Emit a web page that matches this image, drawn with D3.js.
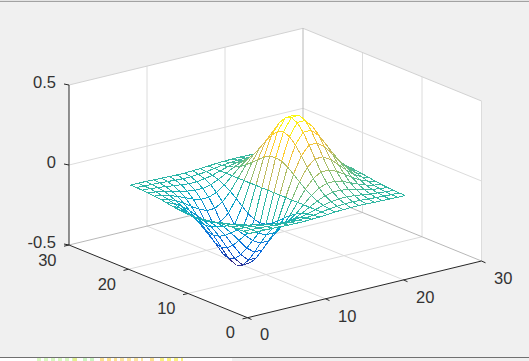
<!DOCTYPE html>
<html>
<head>
<meta charset="utf-8">
<script src="https://cdnjs.cloudflare.com/ajax/libs/d3/7.8.5/d3.min.js"></script>
<style>
html,body{margin:0;padding:0;background:#f0f0f0;overflow:hidden}
svg{display:block}
text{font-family:"Liberation Sans",Arial,sans-serif;font-size:16.5px;fill:#333}
</style>
</head>
<body>
<svg id="chart" width="529" height="361"></svg>
<script>
const xTicks = [0, 10, 20, 30];
const yTicks = [0, 10, 20, 30];
const zTicks = [-0.5, 0, 0.5];
const zTickLabels = ["-0.5", "0", "0.5"];
const gridX = [1,2,3,4,5,6,7,8,9,10,11,12,13,14,15,16,17,18,19,20,21];
const gridY = [1,2,3,4,5,6,7,8,9,10,11,12,13,14,15,16,17,18,19,20,21];
// surface heights, one row per gridY value
const surface = [
[-.001,-.001,-.002,-.004,-.005,-.007,-.008,-.008,-.006,-.004,0,.004,.006,.008,.008,.007,.005,.004,.002,.001,.001],
[-.001,-.003,-.005,-.008,-.011,-.014,-.017,-.016,-.013,-.008,0,.008,.013,.016,.017,.014,.011,.008,.005,.003,.001],
[-.003,-.005,-.010,-.015,-.022,-.028,-.033,-.032,-.026,-.015,0,.015,.026,.032,.033,.028,.022,.015,.010,.005,.003],
[-.005,-.010,-.017,-.028,-.040,-.052,-.059,-.059,-.048,-.027,0,.027,.048,.059,.059,.052,.040,.028,.017,.010,.005],
[-.009,-.017,-.029,-.047,-.067,-.087,-.100,-.099,-.081,-.046,0,.046,.081,.099,.100,.087,.067,.047,.029,.017,.009],
[-.013,-.026,-.046,-.073,-.105,-.135,-.155,-.154,-.125,-.071,0,.071,.125,.154,.155,.135,.105,.073,.046,.026,.013],
[-.019,-.037,-.065,-.104,-.150,-.194,-.222,-.221,-.180,-.101,0,.101,.180,.221,.222,.194,.150,.104,.065,.037,.019],
[-.026,-.049,-.086,-.138,-.198,-.257,-.294,-.292,-.238,-.134,0,.134,.238,.292,.294,.257,.198,.138,.086,.049,.026],
[-.031,-.060,-.105,-.168,-.242,-.313,-.359,-.357,-.290,-.164,0,.164,.290,.357,.359,.313,.242,.168,.105,.060,.031],
[-.035,-.068,-.119,-.190,-.273,-.353,-.405,-.402,-.327,-.185,0,.185,.327,.402,.405,.353,.273,.190,.119,.068,.035],
[-.037,-.071,-.124,-.197,-.284,-.368,-.422,-.419,-.341,-.192,0,.192,.341,.419,.422,.368,.284,.197,.124,.071,.037],
[-.035,-.068,-.119,-.190,-.273,-.353,-.405,-.402,-.327,-.185,0,.185,.327,.402,.405,.353,.273,.190,.119,.068,.035],
[-.031,-.060,-.105,-.168,-.242,-.313,-.359,-.357,-.290,-.164,0,.164,.290,.357,.359,.313,.242,.168,.105,.060,.031],
[-.026,-.049,-.086,-.138,-.198,-.257,-.294,-.292,-.238,-.134,0,.134,.238,.292,.294,.257,.198,.138,.086,.049,.026],
[-.019,-.037,-.065,-.104,-.150,-.194,-.222,-.221,-.180,-.101,0,.101,.180,.221,.222,.194,.150,.104,.065,.037,.019],
[-.013,-.026,-.046,-.073,-.105,-.135,-.155,-.154,-.125,-.071,0,.071,.125,.154,.155,.135,.105,.073,.046,.026,.013],
[-.009,-.017,-.029,-.047,-.067,-.087,-.100,-.099,-.081,-.046,0,.046,.081,.099,.100,.087,.067,.047,.029,.017,.009],
[-.005,-.010,-.017,-.028,-.040,-.052,-.059,-.059,-.048,-.027,0,.027,.048,.059,.059,.052,.040,.028,.017,.010,.005],
[-.003,-.005,-.010,-.015,-.022,-.028,-.033,-.032,-.026,-.015,0,.015,.026,.032,.033,.028,.022,.015,.010,.005,.003],
[-.001,-.003,-.005,-.008,-.011,-.014,-.017,-.016,-.013,-.008,0,.008,.013,.016,.017,.014,.011,.008,.005,.003,.001],
[-.001,-.001,-.002,-.004,-.005,-.007,-.008,-.008,-.006,-.004,0,.004,.006,.008,.008,.007,.005,.004,.002,.001,.001]
];
const parulaStops = ["#352a87","#0363e1","#1480d6","#06a4ca","#2eb7a4","#87bf77","#d1bb59","#fec832","#f9fb0e"];
// fragments of a neighbouring window visible under the bottom edge
const stripStart = [37, 73, 83, 100, 120, 150, 160];
const stripEnd = [73, 80, 97, 117, 143, 157, 183];
const stripColor = ["#d8f8c0", "#e4f090", "#ccf4c0", "#fce090", "#fce4a0", "#fce090", "#faf080"];

// Oblique projection of the 3D box, each data axis has its own pixel shift
const front = {px: 247.5, py: 317.7};
const xToPx = d3.scaleLinear().domain([0, 30]).range([0, 234]);
const xToPy = d3.scaleLinear().domain([0, 30]).range([0, -56.7]);
const yToPx = d3.scaleLinear().domain([0, 30]).range([0, -178.5]);
const yToPy = d3.scaleLinear().domain([0, 30]).range([0, -72.7]);
const zToPy = d3.scaleLinear().domain([-0.5, 0.5]).range([0, -160]);
const project = (x, y, z) => [
  front.px + xToPx(x) + yToPx(y),
  front.py + xToPy(x) + yToPy(y) + zToPy(z)
];
const color = d3.scaleLinear()
  .domain(parulaStops.map((_, i) => -0.422 + i * 0.844 / (parulaStops.length - 1)))
  .range(parulaStops);

const svg = d3.select("#chart");
const line = d3.line();
const seg = (g, a, b, stroke, w, extra) => g.append("path")
  .attr("d", line([a, b])).attr("fill", "none").attr("stroke", stroke).attr("stroke-width", w || 1)
  .attr("shape-rendering", extra || "auto");

// window frame
svg.append("rect").attr("width", 529).attr("height", 361).attr("fill", "#f0f0f0");
svg.append("rect").attr("width", 529).attr("y", 0).attr("height", 1).attr("fill", "#e4e4e4");
svg.append("rect").attr("width", 529).attr("y", 1).attr("height", 1).attr("fill", "#a2a2a2");
svg.append("rect").attr("x", 0).attr("y", 358).attr("width", 232).attr("height", 3).attr("fill", "#fff");
stripStart.forEach((s, k) => {
  svg.append("path").attr("d", line([[s, 359.5], [stripEnd[k], 359.5]])).attr("fill", "none")
    .attr("stroke", stripColor[k]).attr("stroke-width", 3).attr("stroke-dasharray", "4 3");
});
svg.append("rect").attr("width", 529).attr("y", 357).attr("height", 1).attr("fill", "#707070");

// box background
const boxOutline = [[0,0,-.5],[30,0,-.5],[30,0,.5],[30,30,.5],[0,30,.5],[0,30,-.5]].map(p => project(...p));
svg.append("path").attr("d", line(boxOutline) + "Z").attr("fill", "#fff");

// grid
const grid = svg.append("g");
const gridColor = "#dcdcdc", boxColor = "#b8b8b8", topColor = "#d2d2d2";
xTicks.slice(1, 3).forEach(x => {
  seg(grid, project(x, 0, -.5), project(x, 30, -.5), gridColor);
  seg(grid, project(x, 30, -.5), project(x, 30, .5), gridColor);
});
yTicks.slice(1, 3).forEach(y => {
  seg(grid, project(0, y, -.5), project(30, y, -.5), gridColor);
  seg(grid, project(30, y, -.5), project(30, y, .5), gridColor);
});
seg(grid, project(0, 30, 0), project(30, 30, 0), gridColor);
seg(grid, project(30, 30, 0), project(30, 0, 0), gridColor);
seg(grid, project(0, 30, .5), project(30, 30, .5), topColor);
seg(grid, project(30, 30, .5), project(30, 0, .5), topColor);
seg(grid, project(30, 0, -.5), project(30, 0, .5), gridColor);
seg(grid, project(30, 30, -.5), project(30, 30, .5), boxColor);
seg(grid, project(0, 30, -.5), project(30, 30, -.5), boxColor);
seg(grid, project(30, 30, -.5), project(30, 0, -.5), boxColor);

// surface, far patches first, each filled white to hide what is behind it
const mesh = svg.append("g");
const patches = [];
for (let j = 0; j < gridY.length - 1; j++)
  for (let i = 0; i < gridX.length - 1; i++) patches.push({i, j});
patches.sort((a, b) => (56.7 * b.i + 72.7 * b.j) - (56.7 * a.i + 72.7 * a.j));
patches.forEach(({i, j}) => {
  const p = (a, b) => project(gridX[a], gridY[b], surface[b][a]);
  const q = [p(i, j), p(i + 1, j), p(i + 1, j + 1), p(i, j + 1)];
  mesh.append("path").attr("d", line(q) + "Z").attr("fill", "#fff");
  const zs = [surface[j][i], surface[j][i + 1], surface[j + 1][i + 1], surface[j + 1][i]];
  q.forEach((pt, k) => seg(mesh, pt, q[(k + 1) % 4], color(zs[k]), 1, "crispEdges"));
});

// axes
const axes = svg.append("g");
const ink = "#262626";
seg(axes, project(0, 0, -.5), project(30, 0, -.5), ink);
seg(axes, project(0, 0, -.5), project(0, 30, -.5), ink);
seg(axes, project(0, 30, -.5), project(0, 30, .5), ink);
xTicks.forEach(x => {
  const a = project(x, 0, -.5);
  seg(axes, a, [a[0] + 4, a[1] + 1.8], ink);
  axes.append("text").attr("x", a[0] + 12.5).attr("y", a[1] + 17).attr("dy", "0.35em").text(x);
});
yTicks.forEach(y => {
  const a = project(0, y, -.5);
  seg(axes, a, [a[0] - 5, a[1] + 1.2], ink);
  axes.append("text").attr("x", a[0] - 12.5).attr("y", a[1] + 15).attr("dy", "0.35em").attr("text-anchor", "end").text(y);
});
zTicks.forEach((z, k) => {
  const a = project(0, 30, z);
  seg(axes, a, [a[0] - 5, a[1] - 1], ink);
  axes.append("text").attr("x", 56).attr("y", a[1] - 3).attr("dy", "0.35em").attr("text-anchor", "end").text(zTickLabels[k]);
});
</script>
</body>
</html>
